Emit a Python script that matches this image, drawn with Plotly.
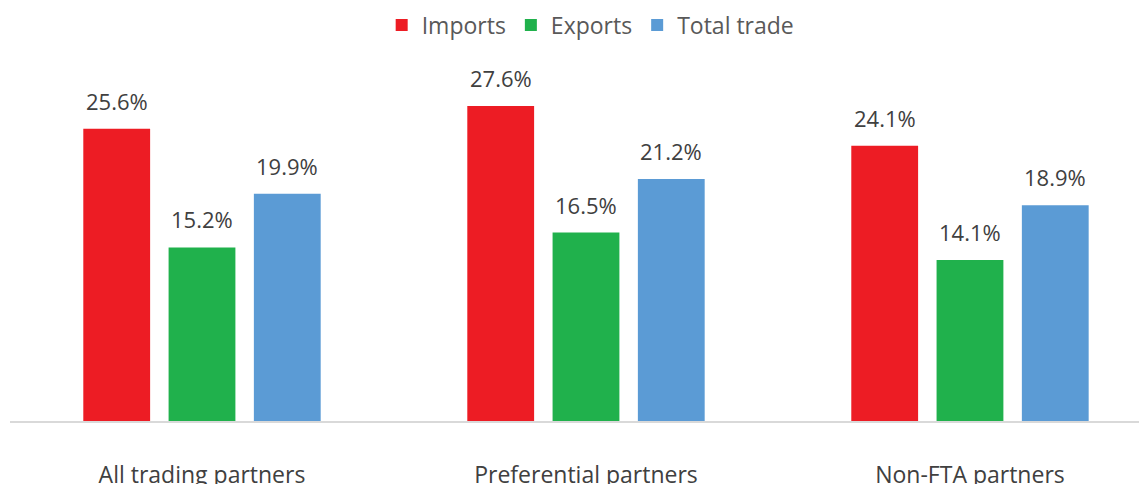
import plotly.graph_objects as go

categories = ["All trading partners", "Preferential partners", "Non-FTA partners"]
series_names = ["Imports", "Exports", "Total trade"]
imports = [25.6, 27.6, 24.1]
exports = [15.2, 16.5, 14.1]
total_trade = [19.9, 21.2, 18.9]
colors = ["#ED1C24", "#20B14C", "#5B9BD5"]

values = [imports, exports, total_trade]
offsets = [-0.2221, 0.0, 0.2221]
bar_width = 0.174
xpos = list(range(len(categories)))

font_family = "Open Sans, sans-serif"
label_color = "#404040"

fig = go.Figure()
annotations = []
for name, vals, col, off in zip(series_names, values, colors, offsets):
    xs = [x + off for x in xpos]
    fig.add_trace(go.Bar(
        x=xs, y=vals, name=name, width=bar_width,
        marker=dict(color=col, line=dict(width=0)),
    ))
    for x, v in zip(xs, vals):
        annotations.append(dict(
            x=x, y=v, xref="x", yref="y", text=f"{v:.1f}%",
            showarrow=False, yanchor="bottom", yshift=11,
            font=dict(family=font_family, size=22, color=label_color),
        ))

fig.update_layout(
    width=1147, height=484,
    margin=dict(l=2, r=8, t=52, b=69),
    paper_bgcolor="white", plot_bgcolor="white",
    barmode="overlay",
    showlegend=True,
    legend=dict(
        orientation="h", xref="container", yref="container",
        x=0.508, xanchor="center", y=0.965, yanchor="middle",
        font=dict(family=font_family, size=23, color="#595959"),
        itemwidth=30, traceorder="normal",
    ),
    annotations=annotations,
    xaxis=dict(
        range=[-0.5, 2.461],
        tickmode="array", tickvals=xpos, ticktext=categories,
        showline=True, linecolor="#D9D9D9", linewidth=1.5,
        showgrid=False, zeroline=False, ticks="",
        ticklabelstandoff=33,
        tickfont=dict(family=font_family, size=23, color=label_color),
    ),
    yaxis=dict(
        range=[0, 31.62], visible=False, showgrid=False, zeroline=False,
    ),
)

fig.write_html("out.html")
